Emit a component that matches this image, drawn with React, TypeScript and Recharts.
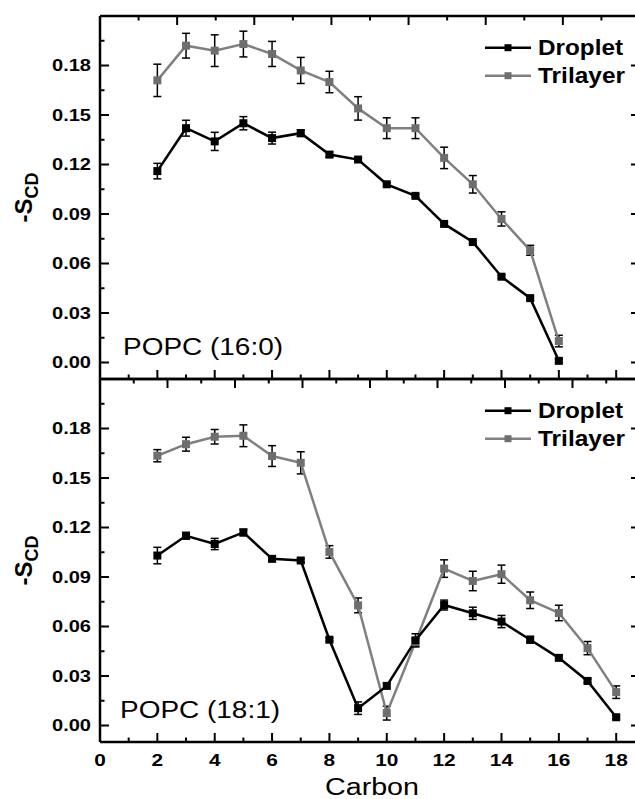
import React from 'react';
import { LineChart, Line, XAxis, YAxis, ErrorBar, Legend, Customized } from 'recharts';

const FONT = '"Liberation Sans", Arial, Helvetica, sans-serif';

// ---------- data: POPC (16:0) ----------
const topCarbon = [2, 3, 4, 5, 6, 7, 8, 9, 10, 11, 12, 13, 14, 15, 16];
const topDroplet = [0.116, 0.142, 0.134, 0.145, 0.136, 0.139, 0.126, 0.123, 0.108, 0.101, 0.084, 0.073, 0.052, 0.039, 0.001];
const topDropletErr = [0.0047, 0.0048, 0.0055, 0.004, 0.0036, 0.002, 0.0015, 0.0012, 0.001, 0.001, 0.001, 0.001, 0.001, 0.0012, 0.0012];
const topTrilayer = [0.171, 0.192, 0.189, 0.193, 0.187, 0.177, 0.170, 0.154, 0.142, 0.142, 0.124, 0.108, 0.087, 0.068, 0.013];
const topTrilayerErr = [0.0098, 0.0075, 0.0096, 0.0078, 0.0076, 0.0079, 0.0065, 0.0071, 0.0063, 0.0063, 0.0065, 0.0053, 0.0043, 0.003, 0.0035];

// ---------- data: POPC (18:1) ----------
const bottomCarbon = [2, 3, 4, 5, 6, 7, 8, 9, 10, 11, 12, 13, 14, 15, 16, 17, 18];
const bottomDroplet = [0.103, 0.115, 0.110, 0.117, 0.101, 0.100, 0.052, 0.0105, 0.024, 0.0516, 0.073, 0.068, 0.063, 0.052, 0.041, 0.027, 0.005];
const bottomDropletErr = [0.005, 0.002, 0.0034, 0.002, 0.0015, 0.0012, 0.001, 0.0038, 0.0015, 0.004, 0.003, 0.0037, 0.0037, 0.002, 0.0015, 0.0012, 0.001];
const bottomTrilayer = [0.1635, 0.1705, 0.175, 0.1756, 0.1633, 0.1592, 0.1052, 0.0728, 0.0075, 0.0506, 0.0951, 0.0876, 0.0917, 0.0759, 0.0682, 0.0469, 0.0202];
const bottomTrilayerErr = [0.0037, 0.0042, 0.0044, 0.0066, 0.0063, 0.0067, 0.0038, 0.0045, 0.0042, 0.0025, 0.0053, 0.0059, 0.0055, 0.005, 0.0047, 0.004, 0.0038];

// ---------- ticks & labels ----------
const xTicks = [0, 1, 2, 3, 4, 5, 6, 7, 8, 9, 10, 11, 12, 13, 14, 15, 16, 17, 18];
const yTicks = [0, 0.015, 0.03, 0.045, 0.06, 0.075, 0.09, 0.105, 0.12, 0.135, 0.15, 0.165, 0.18, 0.195];
const xDomain = [0, 18.83];
const yDomain = [-0.01, 0.21];
const seriesNames = ['Droplet', 'Trilayer'];
const panelNotes = ['POPC (16:0)', 'POPC (18:1)'];
const xTitle = 'Carbon';

const BLACK = '#000000';
const GREY_LINE = '#808080';
const GREY_MARK = '#6e6e6e';
const markerFill: Record<string, string> = { Droplet: BLACK, Trilayer: GREY_MARK };

type Row = { c: number; d: number; dErr: number; t: number; tErr: number };
const buildRows = (c: number[], d: number[], dErr: number[], t: number[], tErr: number[]): Row[] =>
  c.map((cv, i) => ({ c: cv, d: d[i], dErr: dErr[i], t: t[i], tErr: tErr[i] }));

const topRows = buildRows(topCarbon, topDroplet, topDropletErr, topTrilayer, topTrilayerErr);
const bottomRows = buildRows(bottomCarbon, bottomDroplet, bottomDropletErr, bottomTrilayer, bottomTrilayerErr);

const MAJOR = 9;
const MINOR = 4.5;

const isMajorX = (v: number) => Math.round(v) % 2 === 0;
const isMajorY = (v: number) => Math.round(v / 0.015) % 2 === 0;

const BottomTick = (props: any) => {
  const { x, y, payload, showLabel } = props;
  const major = isMajorX(payload.value);
  const label = String(payload.value);
  return (
    <g>
      <line x1={x} x2={x} y1={y} y2={y - (major ? MAJOR : MINOR)} stroke={BLACK} strokeWidth={2} />
      {showLabel && major && (
        <text x={x} y={y + 24} textAnchor="middle" fontFamily={FONT} fontWeight="bold" fontSize={17}
          textLength={label.length * 11.6} lengthAdjust="spacingAndGlyphs" fill={BLACK}>{label}</text>
      )}
    </g>
  );
};

const TopTick = (props: any) => {
  const { x, y, payload } = props;
  const major = isMajorX(payload.value);
  return <line x1={x} x2={x} y1={y} y2={y + (major ? MAJOR : MINOR)} stroke={BLACK} strokeWidth={2} />;
};

const LeftTick = (props: any) => {
  const { x, y, payload } = props;
  const major = isMajorY(payload.value);
  const label = Number(payload.value).toFixed(2);
  return (
    <g>
      <line x1={x} x2={x + (major ? MAJOR : MINOR)} y1={y} y2={y} stroke={BLACK} strokeWidth={2} />
      {major && (
        <text x={x - 9} y={y + 5.8} textAnchor="end" fontFamily={FONT} fontWeight="bold" fontSize={16}
          textLength={39} lengthAdjust="spacingAndGlyphs" fill={BLACK}>{label}</text>
      )}
    </g>
  );
};

const RightTick = (props: any) => {
  const { x, y, payload } = props;
  const major = isMajorY(payload.value);
  return <line x1={x} x2={x - (major ? MAJOR : MINOR)} y1={y} y2={y} stroke={BLACK} strokeWidth={2} />;
};

const squareDot = (fill: string) => (p: any) => {
  if (p.cx == null || p.cy == null) return <g key={p.index} />;
  return <rect key={p.index} x={p.cx - 4} y={p.cy - 4} width={8} height={8} fill={fill} />;
};

const YTitle = (props: any) => {
  const vb = props.viewBox || { x: 0, y: 0, width: 100, height: 0 };
  const cx = vb.x + 32;
  const cy = vb.y + vb.height / 2;
  return (
    <text x={cx} y={cy} transform={`rotate(-90, ${cx}, ${cy})`} textAnchor="middle" fontFamily={FONT}
      fontWeight="bold" fill={BLACK}>
      <tspan fontSize={24}>-S</tspan>
      <tspan fontSize={18} dy={6}>CD</tspan>
    </text>
  );
};

const XTitle = (props: any) => {
  const vb = props.viewBox || { x: 0, y: 0, width: 0, height: 0 };
  return (
    <text x={vb.x + vb.width / 2 + 2} y={vb.y + 53} textAnchor="middle" fontFamily={FONT} fontSize={23}
      textLength={94} lengthAdjust="spacingAndGlyphs" fill={BLACK}>{xTitle}</text>
  );
};

const LegendContent = (props: any) => {
  const payload: any[] = props.payload || [];
  const items = seriesNames.map((n) => payload.find((p) => p.value === n)).filter(Boolean);
  const lens = [85, 87];
  return (
    <svg width={150} height={60} style={{ display: 'block' }}>
      {items.map((it: any, i: number) => {
        const ly = 17.7 + i * 28;
        return (
          <g key={it.value}>
            <line x1={5} x2={51} y1={ly} y2={ly} stroke={it.color} strokeWidth={2.5} />
            <rect x={24.5} y={ly - 3.5} width={7} height={7} fill={markerFill[it.value]} />
            <text x={58} y={ly + 6.8} fontFamily={FONT} fontWeight="bold" fontSize={22}
              textLength={lens[i]} lengthAdjust="spacingAndGlyphs" fill={BLACK}>{it.value}</text>
          </g>
        );
      })}
    </svg>
  );
};

type PanelProps = {
  rows: Row[];
  height: number;
  margin: { top: number; right: number; bottom: number; left: number };
  bottomAxisHeight: number;
  note: string;
  noteX: number;
  noteY: number;
  legendTop: number;
  showXLabels: boolean;
};

const Panel = ({ rows, height, margin, bottomAxisHeight, note, noteX, noteY, legendTop, showXLabels }: PanelProps) => (
  <div style={{ position: 'absolute', left: 0, top: 0 }}>
    <LineChart width={645} height={height} data={rows} margin={margin}>
      <XAxis xAxisId="b" dataKey="c" type="number" orientation="bottom" domain={xDomain} allowDataOverflow
        ticks={xTicks} interval={0} height={bottomAxisHeight} tickSize={0} tickMargin={0} tickLine={false}
        axisLine={{ stroke: BLACK, strokeWidth: 2.5 }}
        tick={(p: any) => <BottomTick {...p} showLabel={showXLabels} />}
        label={showXLabels ? { content: (p: any) => <XTitle {...p} /> } : undefined} />
      <XAxis xAxisId="t" type="number" orientation="top" domain={xDomain} allowDataOverflow
        ticks={xTicks} interval={0} height={10} tickSize={0} tickMargin={0} tickLine={false}
        axisLine={{ stroke: BLACK, strokeWidth: 2.5 }} tick={(p: any) => <TopTick {...p} />} />
      <YAxis yAxisId="l" type="number" orientation="left" domain={yDomain} allowDataOverflow
        ticks={yTicks} interval={0} width={100} tickSize={0} tickMargin={0} tickLine={false}
        axisLine={{ stroke: BLACK, strokeWidth: 2.5 }} tick={(p: any) => <LeftTick {...p} />}
        label={{ content: (p: any) => <YTitle {...p} /> }} />
      <YAxis yAxisId="r" type="number" orientation="right" domain={yDomain} allowDataOverflow
        ticks={yTicks} interval={0} width={5} tickSize={0} tickMargin={0} tickLine={false}
        axisLine={{ stroke: BLACK, strokeWidth: 2.5 }} tick={(p: any) => <RightTick {...p} />} />
      <Line xAxisId="b" yAxisId="l" dataKey="t" name="Trilayer" stroke={GREY_LINE} strokeWidth={2.5}
        dot={squareDot(GREY_MARK)} activeDot={false} isAnimationActive={false}>
        <ErrorBar dataKey="tErr" width={4} stroke={BLACK} strokeWidth={1.5} direction="y" />
      </Line>
      <Line xAxisId="b" yAxisId="l" dataKey="d" name="Droplet" stroke={BLACK} strokeWidth={2.5}
        dot={squareDot(BLACK)} activeDot={false} isAnimationActive={false}>
        <ErrorBar dataKey="dErr" width={4} stroke={BLACK} strokeWidth={1.5} direction="y" />
      </Line>
      <Legend layout="vertical" align="center" verticalAlign="middle" width={150}
        wrapperStyle={{ left: 480, top: legendTop, margin: 0, padding: 0 }}
        content={(p: any) => <LegendContent {...p} />} />
      <Customized component={() => (
        <text x={noteX} y={noteY} fontFamily={FONT} fontSize={23} textLength={160}
          lengthAdjust="spacingAndGlyphs" fill={BLACK}>{note}</text>
      )} />
    </LineChart>
  </div>
);

export default function App() {
  return (
    <div style={{ position: 'absolute', left: 0, top: 0, width: 635, height: 799, overflow: 'hidden', background: '#ffffff' }}>
      <Panel rows={topRows} height={390} margin={{ top: 6, right: 0, bottom: 1, left: 0 }} bottomAxisHeight={10}
        note={panelNotes[0]} noteX={123} noteY={355} legendTop={30} showXLabels={false} />
      <Panel rows={bottomRows} height={799} margin={{ top: 369, right: 0, bottom: 17, left: 0 }} bottomAxisHeight={40}
        note={panelNotes[1]} noteX={120} noteY={718} legendTop={393} showXLabels={true} />
    </div>
  );
}
